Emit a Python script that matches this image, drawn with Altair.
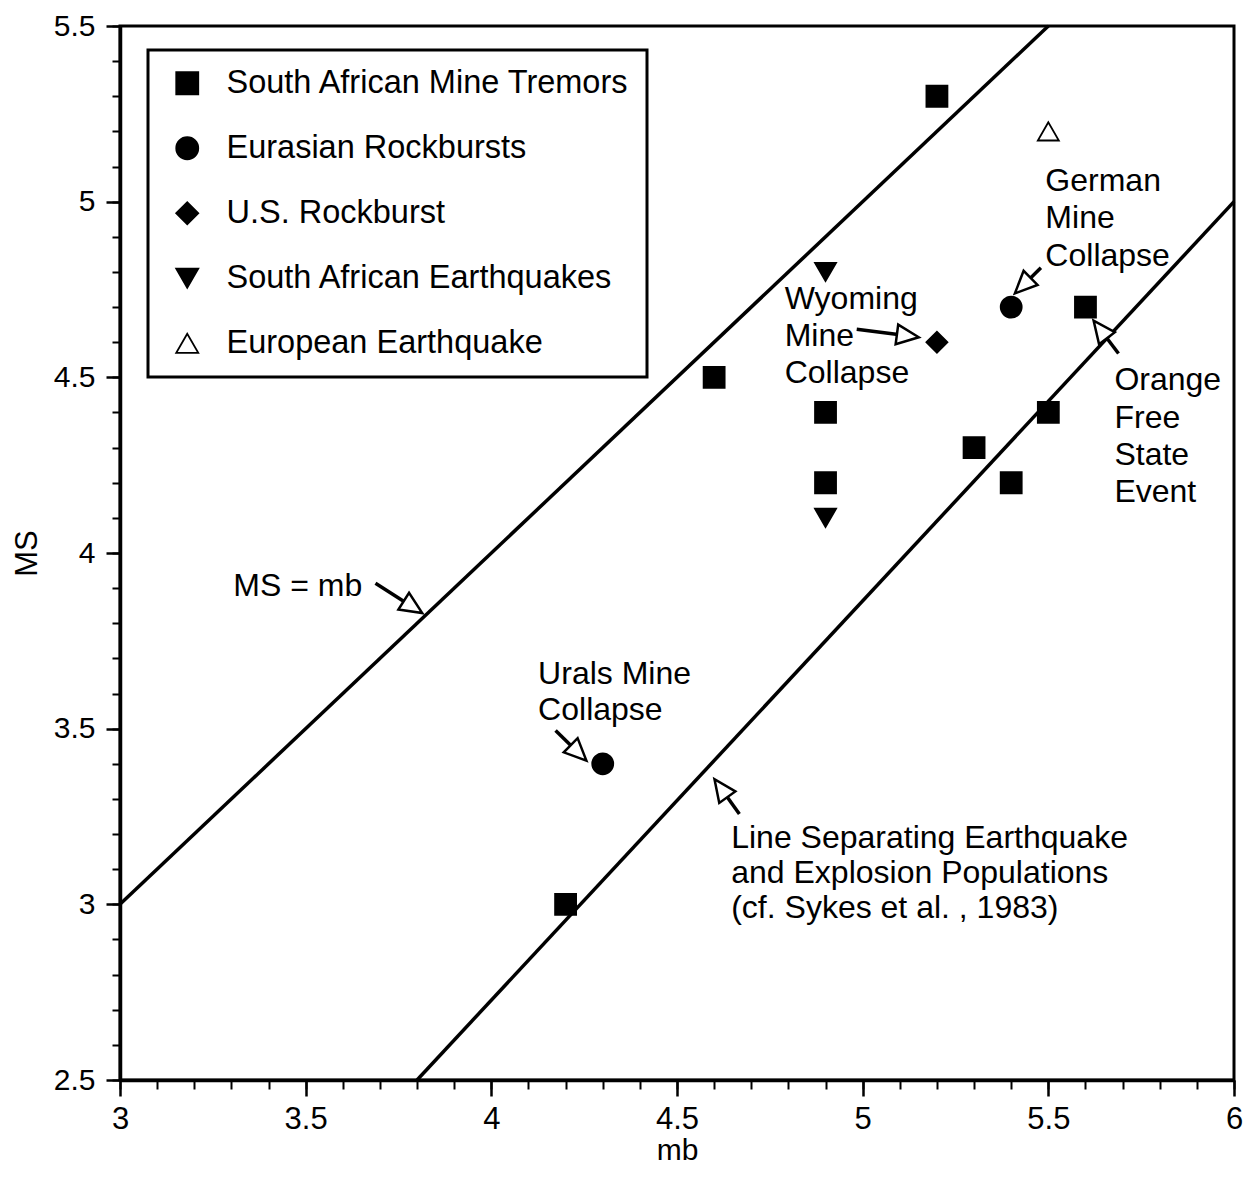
import math
import altair as alt
import pandas as pd

# ---------------- data ----------------
categories = ["South African Mine Tremors", "Eurasian Rockbursts", "U.S. Rockburst",
              "South African Earthquakes", "European Earthquake"]
shapes = ["square", "circle", "diamond", "triangle-down", "triangle-up"]
fills = ["black", "black", "black", "black", "white"]
strokes = ["black", "black", "black", "black", "black"]

tremor_mb = [5.2, 4.6, 4.9, 4.9, 5.3, 5.4, 5.5, 5.6, 4.2]
tremor_ms = [5.3, 4.5, 4.4, 4.2, 4.3, 4.2, 4.4, 4.7, 3.0]
rockburst_mb = [5.4, 4.3]
rockburst_ms = [4.7, 3.4]
us_mb = [5.2]
us_ms = [4.6]
sa_eq_mb = [4.9, 4.9]
sa_eq_ms = [4.8, 4.1]
eu_eq_mb = [5.5]
eu_eq_ms = [5.2]

line_id = ["MS = mb", "MS = mb", "separating", "separating"]
line_mb = [3.0, 5.5, 3.8, 6.0]
line_ms = [3.0, 5.5, 2.5, 5.0]

label_text = ["MS = mb", "Urals Mine", "Collapse",
              "Line Separating Earthquake", "and Explosion Populations", "(cf. Sykes et al. , 1983)",
              "Wyoming", "Mine", "Collapse",
              "German", "Mine", "Collapse",
              "Orange", "Free", "State", "Event"]
label_mb = [3.305, 4.126, 4.126, 4.646, 4.646, 4.646, 4.790, 4.790, 4.790,
            5.492, 5.492, 5.492, 5.678, 5.678, 5.678, 5.678]
label_ms = [3.877, 3.628, 3.526, 3.161, 3.061, 2.960, 4.695, 4.588, 4.483,
            5.031, 4.926, 4.818, 4.463, 4.355, 4.250, 4.146]

arrow_tail_mb = [3.688, 4.173, 4.668, 4.984, 5.480, 5.689]
arrow_tail_ms = [3.914, 3.495, 3.257, 4.637, 4.812, 4.568]
arrow_tip_mb = [3.814, 4.256, 4.601, 5.151, 5.410, 5.622]
arrow_tip_ms = [3.829, 3.409, 3.356, 4.614, 4.739, 4.661]

x_major = [3, 3.5, 4, 4.5, 5, 5.5, 6]
y_major = [2.5, 3, 3.5, 4, 4.5, 5, 5.5]
x_minor = [3.0, 3.1, 3.2, 3.3, 3.4, 3.5, 3.6, 3.7, 3.8, 3.9, 4.0, 4.1, 4.2, 4.3, 4.4, 4.5,
           4.6, 4.7, 4.8, 4.9, 5.0, 5.1, 5.2, 5.3, 5.4, 5.5, 5.6, 5.7, 5.8, 5.9, 6.0]
y_minor = [2.5, 2.6, 2.7, 2.8, 2.9, 3.0, 3.1, 3.2, 3.3, 3.4, 3.5, 3.6, 3.7, 3.8, 3.9, 4.0,
           4.1, 4.2, 4.3, 4.4, 4.5, 4.6, 4.7, 4.8, 4.9, 5.0, 5.1, 5.2, 5.3, 5.4, 5.5]

# ---------------- layout ----------------
W, H = 1114, 1054
XDOM, YDOM = [3, 6], [2.5, 5.5]
SX, SY = W / 3.0, H / 3.0
FONT = "Liberation Sans"
HEAD_LEN = 22  # px

# ---------------- tables ----------------
rows = []
for cat, xs, ys in zip(categories,
                       [tremor_mb, rockburst_mb, us_mb, sa_eq_mb, eu_eq_mb],
                       [tremor_ms, rockburst_ms, us_ms, sa_eq_ms, eu_eq_ms]):
    for a, b in zip(xs, ys):
        rows.append({"type": cat, "mb": a, "ms": b})
pts = pd.DataFrame(rows)

lines_df = pd.DataFrame({"id": line_id, "mb": line_mb, "ms": line_ms})
labels_df = pd.DataFrame({"text": label_text, "mb": label_mb, "ms": label_ms})

arr = []
for tx, ty, hx, hy in zip(arrow_tail_mb, arrow_tail_ms, arrow_tip_mb, arrow_tip_ms):
    dx = (hx - tx) * SX
    dy = -(hy - ty) * SY
    L = math.hypot(dx, dy)
    ux, uy = dx / L, dy / L
    ang = math.degrees(math.atan2(dx, -dy)) % 360
    ex = hx - 0.5 * HEAD_LEN * ux / SX
    ey = hy + 0.5 * HEAD_LEN * uy / SY
    arr.append({"x": tx, "y": ty, "x2": ex, "y2": ey, "hx": hx, "hy": hy, "ang": ang})
arrows = pd.DataFrame(arr)

xs_ = alt.Scale(domain=XDOM, nice=False, zero=False)
ys_ = alt.Scale(domain=YDOM, nice=False, zero=False)

x_major_axis = alt.Axis(values=x_major, format="~g", orient="bottom", tickSize=16, tickWidth=2.5,
                        tickColor="black", domainColor="black", domainWidth=3.5,
                        labelFontSize=31, labelColor="black", labelFont=FONT, labelFlush=False,
                        labelPadding=8, labelOverlap=False, grid=False,
                        title="mb", titleFontSize=30, titleFontWeight="normal", titleColor="black",
                        titleFont=FONT, titlePadding=1)
y_major_axis = alt.Axis(values=y_major, format="~g", orient="left", tickSize=14, tickWidth=2.5,
                        tickColor="black", domainColor="black", domainWidth=3.5,
                        labelFontSize=30, labelColor="black", labelFont=FONT,
                        labelPadding=11, labelOverlap=False, grid=False,
                        title="MS", titleFontSize=31, titleFontWeight="normal", titleColor="black",
                        titleFont=FONT, titlePadding=10)
x_minor_axis = alt.Axis(values=x_minor, orient="bottom", tickSize=9, tickWidth=2, tickColor="black",
                        labels=False, domain=False, grid=False, title=None)
y_minor_axis = alt.Axis(values=y_minor, orient="left", tickSize=8, tickWidth=2, tickColor="black",
                        labels=False, domain=False, grid=False, title=None)

lines = alt.Chart(lines_df).mark_line(color="black", strokeWidth=3.5).encode(
    x=alt.X("mb:Q", scale=xs_, axis=x_major_axis),
    y=alt.Y("ms:Q", scale=ys_, axis=y_major_axis),
    detail="id:N",
)

shafts = alt.Chart(arrows).mark_rule(color="black", strokeWidth=3.5).encode(
    x=alt.X("x:Q", scale=xs_, axis=x_minor_axis),
    y=alt.Y("y:Q", scale=ys_, axis=y_minor_axis),
    x2="x2:Q",
    y2="y2:Q",
)

heads = alt.Chart(arrows).mark_point(
    shape="M0,0L-0.9,2L0.9,2Z", size=484, filled=True, fill="white",
    stroke="black", strokeWidth=2.5, opacity=1,
).encode(
    x=alt.X("hx:Q", scale=xs_, axis=None),
    y=alt.Y("hy:Q", scale=ys_, axis=None),
    angle=alt.Angle("ang:Q", scale=None),
)


def make_legend():
    return alt.Legend(title=None, orient="none", legendX=28, legendY=24,
                      padding=17, symbolOffset=6, labelOffset=23, rowPadding=32,
                      symbolSize=484, symbolStrokeColor="black",
                      symbolStrokeWidth=1.8, labelFontSize=32.5, labelFont=FONT,
                      labelColor="black", labelLimit=800, strokeColor="black")


points = alt.Chart(pts).mark_point(
    filled=True, size=441, strokeWidth=1.8, opacity=1
).encode(
    x=alt.X("mb:Q", scale=xs_, axis=None),
    y=alt.Y("ms:Q", scale=ys_, axis=None),
    shape=alt.Shape("type:N", scale=alt.Scale(domain=categories, range=shapes),
                    legend=make_legend()),
    fill=alt.Fill("type:N", scale=alt.Scale(domain=categories, range=fills),
                  legend=make_legend()),
    stroke=alt.Stroke("type:N", scale=alt.Scale(domain=categories, range=strokes),
                      legend=make_legend()),
)

texts = alt.Chart(labels_df).mark_text(
    align="left", baseline="alphabetic", fontSize=32, font=FONT, color="black"
).encode(
    x=alt.X("mb:Q", scale=xs_, axis=None),
    y=alt.Y("ms:Q", scale=ys_, axis=None),
    text="text:N",
)

chart = (
    alt.layer(lines, shafts, heads, points, texts)
    .resolve_axis(x="independent", y="independent")
    .properties(width=W, height=H, autosize=alt.AutoSizeParams(type="none"),
                padding={"left": 112, "top": 18, "right": 14, "bottom": 86},
                background="white")
    .configure(font=FONT)
    .configure_view(stroke="black", strokeWidth=3)
    .configure_legend(strokeWidth=3)
)

chart.save("out.html", embed_options={"renderer": "svg", "actions": False})
